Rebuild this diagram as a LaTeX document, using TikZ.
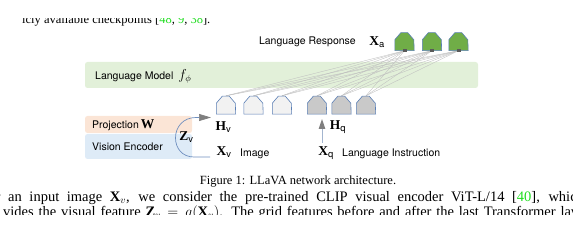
\documentclass[tikz,border=0pt]{standalone}
\usepackage{fontspec}
\setmainfont{Liberation Serif}
\setsansfont{TeX Gyre Heros}
\usetikzlibrary{arrows.meta,calc}
\definecolor{lmgreen}{HTML}{E2F0D9}
\definecolor{projc}{HTML}{FBE5D6}
\definecolor{visc}{HTML}{DEEBF7}
\definecolor{tokgreen}{HTML}{70AD47}
\definecolor{tokwhite}{HTML}{F2F2F2}
\definecolor{tokgray}{HTML}{C9C9C9}
\definecolor{tokedge}{HTML}{5B7FB5}
\definecolor{arcc}{HTML}{6F8FBF}
\definecolor{qlinec}{HTML}{A3B5CF}
\definecolor{headc}{HTML}{7F7F7F}
\definecolor{citec}{HTML}{22DD22}
\newcommand\tok[4]{%
  \node[tokbase] (#1) at (#2,#3) {};
  \draw[tokedge, line width=0.6pt, fill=#4] (#1.south west) -- ++(0,-11) -- ++(6,-7) -- ++(7,0) -- ++(6,7) -- (#1.south east) -- cycle;
}
\begin{document}
\begin{tikzpicture}[x=1pt,y=-1pt,
  tokbase/.style={rectangle, draw=none, minimum width=19pt, minimum height=18pt, inner sep=0pt},
  mk/.style={rectangle, fill=black!65, minimum width=4pt, minimum height=3pt, inner sep=0pt},
  conn/.style={black!25, line width=0.35pt},
  lab/.style={font=\sffamily\fontsize{10.5}{12}\selectfont, inner sep=0pt},
  mth/.style={font=\fontsize{13.5}{15}\selectfont, inner sep=0pt},
  body/.style={font=\fontsize{12.5}{15}\selectfont, inner sep=0pt},
  bodyb/.style={font=\fontsize{14.5}{15}\selectfont, inner sep=0pt},
  boxn/.style={rectangle, rounded corners=2.5pt, draw=none, inner sep=0pt},
  arcl/.style={arcc, line width=0.7pt, -{Triangle[length=12pt,width=7pt,color=headc]}},
  ql/.style={qlinec, line width=1pt, -{Triangle[length=10pt,width=6.5pt,color=headc]}}
]
\useasboundingbox (0,0) rectangle (573,243);
\begin{scope}
\clip (0,0) rectangle (573,243);
% surrounding text
\begin{scope}
\clip (0,18.5) rectangle (573,40);
\node[body, anchor=base west] (t0) at (22,24) {icly available checkpoints [{\color{citec}48}, {\color{citec}9}, {\color{citec}38}].};
\end{scope}
\node[body, anchor=base] (cap) at (298,184) {Figure 1: LLaVA network architecture.};
\node[bodyb, anchor=base west] (l1) at (-4.5,201) {\makebox[581pt][s]{r an input image $\mathbf{X}_v$, we consider the pre-trained CLIP visual encoder ViT-L/14 [{\color{citec}40}], whic}};
\begin{scope}
\clip (0,190) rectangle (573,214.5);
\node[bodyb, anchor=base west] (l2) at (3,216) {\makebox[575pt][s]{vides the visual feature $\mathbf{Z}_v = g(\mathbf{X}_v)$. The grid features before and after the last Transformer lay}};
\end{scope}
% boxes
\node[boxn, fill=lmgreen, minimum width=393pt, minimum height=26pt] (lm) at (281.5,75) {};
\node[lab, anchor=west] (lmt) at (95,76) {Language Model\hspace{5pt}{\fontsize{13.5}{15}\selectfont$f_{\phi}$}};
\node[boxn, fill=projc, minimum width=107pt, minimum height=17pt] (proj) at (138.5,124.5) {};
\node[boxn, fill=visc, minimum width=107pt, minimum height=25pt] (vis) at (138.5,146.5) {};
\node[lab, anchor=west] (projt) at (92,125) {Projection\hspace{2pt}{\fontsize{13.5}{15}\selectfont$\mathbf{W}$}};
\node[lab, anchor=west] (vist) at (92,147) {Vision Encoder};
% tokens
\node[tokbase] (g1) at (404.5,41.5) {};
\node[tokbase] (g2) at (432,41.5) {};
\node[tokbase] (g3) at (458.5,41.5) {};
\node[tokbase] (w1) at (226,105) {};
\node[tokbase] (w2) at (253.5,105) {};
\node[tokbase] (w3) at (282,105) {};
\node[tokbase] (q1) at (317,105) {};
\node[tokbase] (q2) at (341.5,105) {};
\node[tokbase] (q3) at (366,105) {};
\foreach \a in {w1,w2,w3,q1,q2,q3}
  \foreach \b in {g1,g2,g3}
    \draw[conn] (\a.north) -- (\b.south);
\tok{g1}{404.5}{41.5}{tokgreen}
\tok{g2}{432}{41.5}{tokgreen}
\tok{g3}{458.5}{41.5}{tokgreen}
\tok{w1}{226}{105}{tokwhite}
\tok{w2}{253.5}{105}{tokwhite}
\tok{w3}{282}{105}{tokwhite}
\tok{q1}{317}{105}{tokgray}
\tok{q2}{341.5}{105}{tokgray}
\tok{q3}{366}{105}{tokgray}
\node[mk] (m1) at (g1.south) {};
\node[mk] (m2) at (g2.south) {};
\node[mk] (m3) at (g3.south) {};
% labels
\node[lab, anchor=east] (lr) at (356,42) {Language Response};
\node[mth] (xa) at (377,42) {$\mathbf{X}_\mathsf{a}$};
\node[mth] (hv) at (223.5,127) {$\mathbf{H}_\mathsf{v}$};
\node[mth] (xv) at (224,152) {$\mathbf{X}_\mathsf{v}$};
\node[lab, anchor=west] (img) at (240,154) {Image};
\node[mth] (zv) at (186.5,137) {$\mathbf{Z}_\mathsf{v}$};
\node[mth] (hq) at (338,127) {$\mathbf{H}_\mathsf{q}$};
\node[mth] (xq) at (326,153) {$\mathbf{X}_\mathsf{q}$};
\node[lab, anchor=west] (lit) at (342,154) {Language Instruction};
% arrows
\coordinate (zs) at (210,157);
\coordinate (ze) at (211,117.5);
\draw[arcl] (zs) -- (194,157) .. controls (182,157) and (175.5,148) .. (175.5,138) .. controls (175.5,127) and (183,117.5) .. (196,117.5) -- (ze);
\coordinate (qs) at (322,143);
\coordinate (qe) at (322,119);
\draw[ql] (qs) -- (qe);
\end{scope}
\end{tikzpicture}
\end{document}
